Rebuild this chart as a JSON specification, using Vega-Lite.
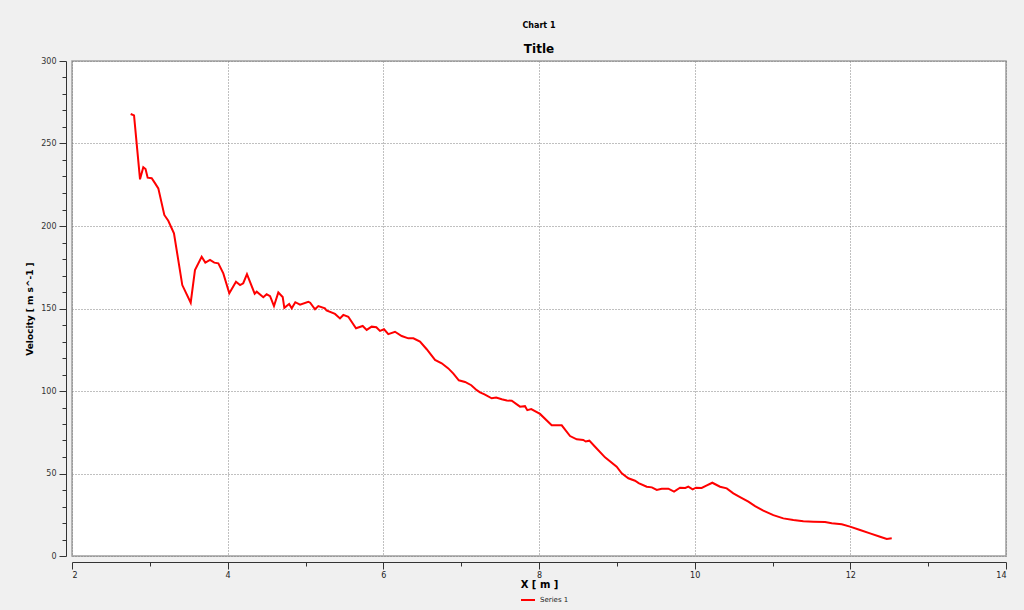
{
  "$schema": "https://vega.github.io/schema/vega-lite/v6.json",
  "width": 934,
  "height": 495,
  "autosize": "none",
  "padding": {"left": 72, "top": 61, "right": 18, "bottom": 54},
  "background": "#f0f0f0",
  "title": {
    "text": "Chart 1",
    "subtitle": "Title",
    "fontSize": 8,
    "fontWeight": "bold",
    "font": "DejaVu Sans",
    "color": "#000000",
    "subtitleFontSize": 12,
    "subtitleFontWeight": "bold",
    "subtitleFont": "DejaVu Sans",
    "subtitleColor": "#000000",
    "subtitlePadding": 14,
    "offset": 2,
    "anchor": "middle"
  },
  "data": {
    "values": [
      {"x": 2.754, "v": 267.9}, {"x": 2.797, "v": 267.0}, {"x": 2.874, "v": 228.3}, {"x": 2.916, "v": 235.6},
      {"x": 2.945, "v": 234.5}, {"x": 2.972, "v": 229.3}, {"x": 3.024, "v": 229.0}, {"x": 3.066, "v": 226.0},
      {"x": 3.109, "v": 222.8}, {"x": 3.186, "v": 206.7}, {"x": 3.237, "v": 203.2}, {"x": 3.31, "v": 195.6},
      {"x": 3.417, "v": 164.2}, {"x": 3.525, "v": 153.5}, {"x": 3.58, "v": 173.3}, {"x": 3.666, "v": 181.4},
      {"x": 3.713, "v": 177.8}, {"x": 3.773, "v": 179.4}, {"x": 3.828, "v": 177.8}, {"x": 3.88, "v": 177.4},
      {"x": 3.944, "v": 171.3}, {"x": 4.021, "v": 159.2}, {"x": 4.107, "v": 166.2}, {"x": 4.159, "v": 164.2},
      {"x": 4.2, "v": 165.3}, {"x": 4.248, "v": 170.8}, {"x": 4.347, "v": 159.0}, {"x": 4.373, "v": 160.2},
      {"x": 4.458, "v": 156.8}, {"x": 4.501, "v": 158.6}, {"x": 4.545, "v": 157.5}, {"x": 4.595, "v": 151.5},
      {"x": 4.651, "v": 159.7}, {"x": 4.707, "v": 157.0}, {"x": 4.728, "v": 150.4}, {"x": 4.79, "v": 152.7},
      {"x": 4.823, "v": 150.1}, {"x": 4.869, "v": 153.8}, {"x": 4.93, "v": 152.3}, {"x": 5.036, "v": 154.1},
      {"x": 5.06, "v": 153.5}, {"x": 5.122, "v": 149.5}, {"x": 5.165, "v": 151.5}, {"x": 5.25, "v": 150.1},
      {"x": 5.27, "v": 148.8}, {"x": 5.379, "v": 146.7}, {"x": 5.443, "v": 144.0}, {"x": 5.486, "v": 146.1},
      {"x": 5.55, "v": 145.0}, {"x": 5.649, "v": 138.0}, {"x": 5.735, "v": 139.4}, {"x": 5.786, "v": 137.0},
      {"x": 5.85, "v": 139.0}, {"x": 5.91, "v": 138.6}, {"x": 5.957, "v": 136.4}, {"x": 6.009, "v": 137.4},
      {"x": 6.064, "v": 134.5}, {"x": 6.15, "v": 135.9}, {"x": 6.236, "v": 133.3}, {"x": 6.321, "v": 131.9},
      {"x": 6.386, "v": 131.9}, {"x": 6.471, "v": 129.9}, {"x": 6.557, "v": 125.3}, {"x": 6.664, "v": 118.8},
      {"x": 6.75, "v": 116.8}, {"x": 6.835, "v": 113.7}, {"x": 6.9, "v": 110.5}, {"x": 6.97, "v": 106.5},
      {"x": 7.05, "v": 105.5}, {"x": 7.13, "v": 103.5}, {"x": 7.2, "v": 100.5}, {"x": 7.242, "v": 99.2},
      {"x": 7.3, "v": 98.0}, {"x": 7.392, "v": 95.6}, {"x": 7.45, "v": 96.0}, {"x": 7.521, "v": 95.0},
      {"x": 7.586, "v": 94.2}, {"x": 7.65, "v": 94.1}, {"x": 7.756, "v": 90.5}, {"x": 7.82, "v": 90.8},
      {"x": 7.85, "v": 88.4}, {"x": 7.9, "v": 89.0}, {"x": 8.013, "v": 86.1}, {"x": 8.163, "v": 79.2},
      {"x": 8.292, "v": 79.2}, {"x": 8.399, "v": 72.7}, {"x": 8.485, "v": 70.7}, {"x": 8.569, "v": 70.3},
      {"x": 8.6, "v": 69.4}, {"x": 8.647, "v": 69.9}, {"x": 8.72, "v": 66.2}, {"x": 8.848, "v": 59.8},
      {"x": 8.998, "v": 54.1}, {"x": 9.063, "v": 50.1}, {"x": 9.148, "v": 47.1}, {"x": 9.234, "v": 45.6},
      {"x": 9.28, "v": 44.2}, {"x": 9.384, "v": 42.0}, {"x": 9.45, "v": 41.6}, {"x": 9.513, "v": 40.0},
      {"x": 9.577, "v": 40.8}, {"x": 9.662, "v": 40.8}, {"x": 9.735, "v": 39.0}, {"x": 9.812, "v": 41.4},
      {"x": 9.88, "v": 41.2}, {"x": 9.918, "v": 42.0}, {"x": 9.974, "v": 40.4}, {"x": 10.017, "v": 41.4},
      {"x": 10.09, "v": 41.2}, {"x": 10.15, "v": 42.6}, {"x": 10.227, "v": 44.4}, {"x": 10.326, "v": 42.0},
      {"x": 10.412, "v": 41.0}, {"x": 10.497, "v": 38.0}, {"x": 10.583, "v": 35.7}, {"x": 10.69, "v": 32.9},
      {"x": 10.776, "v": 30.2}, {"x": 10.882, "v": 27.5}, {"x": 11.011, "v": 24.8}, {"x": 11.139, "v": 22.8},
      {"x": 11.268, "v": 21.8}, {"x": 11.396, "v": 21.0}, {"x": 11.525, "v": 20.8}, {"x": 11.675, "v": 20.6},
      {"x": 11.761, "v": 19.8}, {"x": 11.89, "v": 19.2}, {"x": 11.996, "v": 17.8}, {"x": 12.125, "v": 15.8},
      {"x": 12.253, "v": 13.7}, {"x": 12.382, "v": 11.7}, {"x": 12.468, "v": 10.3}, {"x": 12.532, "v": 10.7}
    ]
  },
  "mark": {"type": "line", "strokeWidth": 2, "interpolate": "linear"},
  "encoding": {
    "x": {
      "field": "x",
      "type": "quantitative",
      "scale": {"domain": [2, 14], "nice": false, "zero": false},
      "axis": {
        "title": "X [ m ]",
        "titleFont": "DejaVu Sans",
        "titleFontSize": 10,
        "titleFontWeight": "bold",
        "titleColor": "#000000",
        "titlePadding": 0,
        "values": [2, 2.5, 3, 3.5, 4, 4.5, 5, 5.5, 6, 6.5, 7, 7.5, 8, 8.5, 9, 9.5, 10, 10.5, 11, 11.5, 12, 12.5, 13, 13.5, 14],
        "format": "d",
        "labelExpr": "datum.value % 2 === 0 ? datum.label : ''",
        "labelFont": "DejaVu Sans",
        "labelFontSize": 8,
        "labelColor": "#222222",
        "labelPadding": 2,
        "offset": 6,
        "domainColor": "#333333",
        "tickColor": "#333333",
        "tickSize": {"condition": {"test": "datum.value % 2 === 0", "value": 7}, "value": 4},
        "grid": true,
        "gridColor": "#808080",
        "gridDash": [1, 2],
        "gridOpacity": {"condition": {"test": "datum.value % 2 === 0", "value": 1}, "value": 0}
      }
    },
    "y": {
      "field": "v",
      "type": "quantitative",
      "scale": {"domain": [0, 300], "nice": false},
      "axis": {
        "title": "Velocity [ m s^-1 ]",
        "titleFont": "DejaVu Sans",
        "titleFontSize": 9,
        "titleFontWeight": "bold",
        "titleColor": "#000000",
        "titlePadding": 6,
        "values": [0, 10, 20, 30, 40, 50, 60, 70, 80, 90, 100, 110, 120, 130, 140, 150, 160, 170, 180, 190, 200, 210, 220, 230, 240, 250, 260, 270, 280, 290, 300],
        "format": "d",
        "labelExpr": "datum.value % 50 === 0 ? datum.label : ''",
        "labelFont": "DejaVu Sans",
        "labelFontSize": 8,
        "labelColor": "#333333",
        "labelPadding": 3,
        "offset": 6,
        "domainColor": "#333333",
        "tickColor": "#333333",
        "tickSize": {"condition": {"test": "datum.value % 50 === 0", "value": 7}, "value": 4},
        "grid": true,
        "gridColor": "#808080",
        "gridDash": [1, 2],
        "gridOpacity": {"condition": {"test": "datum.value % 50 === 0", "value": 1}, "value": 0}
      }
    },
    "color": {
      "datum": "Series 1",
      "type": "nominal",
      "scale": {"range": ["#ff0000"]},
      "legend": {
        "title": null,
        "orient": "none",
        "legendX": 448,
        "legendY": 531,
        "symbolType": "stroke",
        "symbolStrokeWidth": 2,
        "symbolSize": 196,
        "labelFont": "DejaVu Sans",
        "labelFontSize": 7,
        "labelColor": "#222222"
      }
    }
  },
  "config": {
    "view": {"fill": "#ffffff", "stroke": "#a0a0a0", "strokeWidth": 1.5}
  }
}
